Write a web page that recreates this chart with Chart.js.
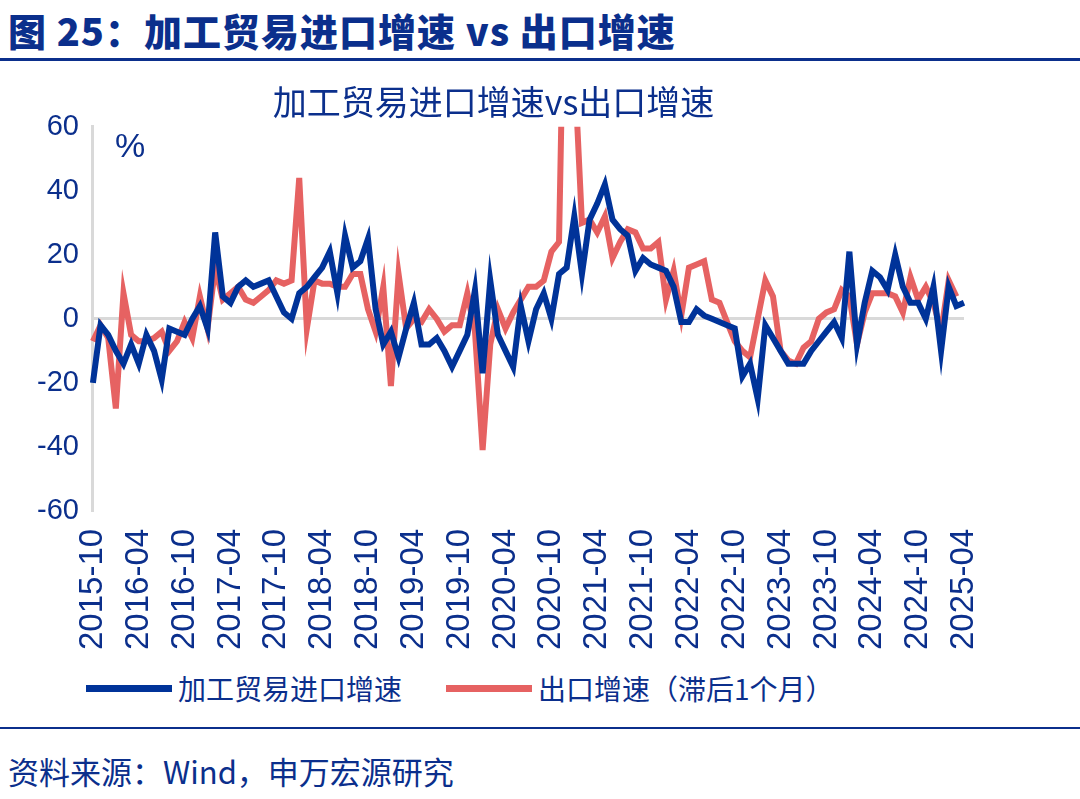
<!DOCTYPE html>
<html><head><meta charset="utf-8">
<script src="https://cdn.jsdelivr.net/npm/chart.js@4"></script>
<style>
body{margin:0;width:1080px;height:799px;background:#fff;font-family:"Noto Sans CJK SC",sans-serif;position:relative;overflow:hidden}
#head{position:absolute;left:8px;top:2px;font-size:38px;font-weight:900;color:#0b2f8c;letter-spacing:1px}
#hl{position:absolute;left:0;top:58px;width:1080px;height:3px;background:#0b2f8c}
#fl{position:absolute;left:0;top:727px;width:1080px;height:2px;background:#0b2f8c}
#foot{position:absolute;left:8px;top:748px;font-size:31px;color:#0b2f8c}
#wrap{position:absolute;left:0;top:74px;width:1080px;height:586px}
#leg{position:absolute;top:668px;left:86px;font-size:28px;color:#0b2f8c;display:flex;align-items:center}
.sw{display:inline-block;width:86px;height:7px;margin-right:6px}
</style></head><body>
<div id="head">图 25：加工贸易进口增速 vs 出口增速</div>
<div id="hl"></div>
<div id="wrap"><canvas id="c" width="1080" height="586"></canvas></div>
<div id="leg"><span class="sw" style="background:#003399"></span>加工贸易进口增速<span class="sw" style="background:#e66262;margin-left:44px"></span>出口增速（滞后1个月）</div>
<div id="fl"></div>
<div id="foot">资料来源：Wind，申万宏源研究</div>
<script>
const months = [];
for (let y = 2015, m = 10; y < 2025 || (y === 2025 && m <= 4); m++) {
  if (m > 12) { m = 1; y++; }
  if (y === 2025 && m > 4) break;
  months.push(y + '-' + String(m).padStart(2, '0'));
}
const processingImports = [-20,-2,-5,-10,-14,-8,-14,-5,-10,-19,-3,-4,-5,0,4,-3,27,7,5,10,12,10,11,12,7,2,0,8,10,13,16,21,8,26,16,18,25,3,-8,
 -4,-12,-3,5,-8,-8,-6,-10,-15,-10,-5,9,-17,12,-5,-10,-15,4,-7,3,8,0,14,16,32,14,31,36,42,31,28,26,15,19,17,16,15,10,-1,-1,3,1,0,-1,-2,-3,-18,-14,-25,-2,-6,-10,-14,-14,-14,-10,-7,-4,-1,-6,21,-8,5,15,13,9,20,10,5,5,0,10,-10,10,4,5];
const exportsLag1 = [-7,-2,-6,-28,8,-5,-7,-7,-6,-4,-10,-7,-1,-6,7,-3,16,6,8,10,6,5,7,9,12,11,12,44,-3,12,11,11,10,10,14,14,3,-4,10,
 -21,14,-3,0,-1,3,0,-4,-2,-2,8,-4,-41,-8,3,-3,2,6,10,10,12,21,24,150,80,30,31,27,32,19,24,28,27,22,22,24,6,15,1,16,17,18,6,5,-1,-7,-10,-12,0,12,7,-10,-13,-14,-9,-7,0,2,3,9,7,-8,2,8,8,8,7,2,13,6,10,5,-4,12,7,null];
const yTicks = [-60,-40,-20,0,20,40,60];

const BLUE = '#0b2f8c';
new Chart(document.getElementById('c'), {
  type: 'line',
  data: {
    labels: months,
    datasets: [
      { data: processingImports, borderColor: '#003399', borderWidth: 6, pointRadius: 0, tension: 0 },
      { data: exportsLag1, borderColor: '#e66262', borderWidth: 6, pointRadius: 0, tension: 0 }
    ]
  },
  options: {
    responsive: false, animation: false,
    layout: { padding: { left: 23, right: 116, top: 0, bottom: 0 } },
    plugins: {
      legend: { display: false },
      title: { display: true, text: '加工贸易进口增速vs出口增速', color: BLUE,
        font: { size: 34, family: 'Noto Sans CJK SC', weight: 'normal' }, padding: { top: 8, bottom: 4 } },
      tooltip: { enabled: false }
    },
    scales: {
      x: {
        grid: { display: false },
        border: { display: false },
        ticks: { autoSkip: false, maxRotation: 90, minRotation: 90, padding: 10, color: BLUE, font: { size: 33, family: 'Liberation Sans' },
          callback: (v, i) => i % 6 === 0 ? months[i] : '' }
      },
      y: {
        min: -60, max: 60,
        afterBuildTicks: s => { s.ticks = yTicks.map(v => ({ value: v })); },
        grid: { color: c => c.tick.value === 0 ? '#d9d9d9' : 'transparent', lineWidth: 3, drawTicks: false },
        border: { color: '#d9d9d9', width: 3 },
        ticks: { color: BLUE, padding: 14, font: { size: 29, family: 'Liberation Sans' } }
      }
    }
  },
  plugins: [{
    id: 'pct',
    afterDraw(ch) {
      const c = ch.ctx, a = ch.chartArea;
      c.save();
      c.fillStyle = BLUE; c.font = '34px Liberation Sans';
      c.fillText('%', a.left + 22, a.top + 30);
      c.restore();
    }
  }]
});
</script>
</body></html>
